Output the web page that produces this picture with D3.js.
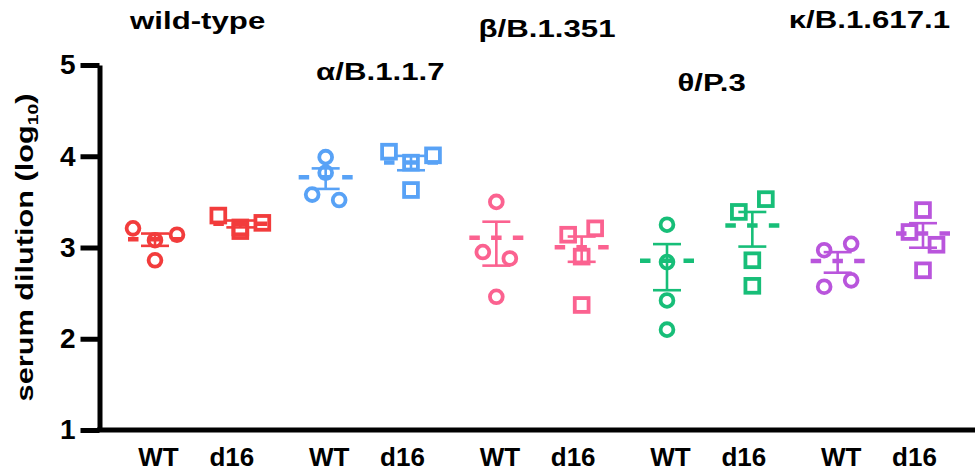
<!DOCTYPE html>
<html>
<head>
<meta charset="utf-8">
<script src="https://cdn.jsdelivr.net/npm/d3@7"></script>
<style>
    body { margin: 0; background: #fff; }
    text { font-family: "Liberation Sans", Arial, sans-serif; font-weight: bold; fill: #000; }
</style>
</head>
<body>
<svg id="chart" width="975" height="475"></svg>
<script>
    // variants and the two sera per variant
    var groups = ["wild-type", "α/B.1.1.7", "β/B.1.351", "θ/P.3", "κ/B.1.617.1"];
    var conditions = ["WT", "d16"];
    var groupColors = ["#f23c3c", "#58a2f6", "#fb6290", "#17be78", "#b955dc"];

    // log10 serum dilution per animal
    var wtValues = [
        [3.21, 3.08, 3.14, 2.86],
        [3.99, 3.82, 3.58, 3.52],
        [3.50, 2.95, 2.88, 2.46],
        [3.25, 2.84, 2.42, 2.10],
        [2.97, 3.04, 2.57, 2.64]
    ];
    var d16Values = [
        [3.35, 3.22, 3.27, 3.18],
        [4.05, 3.93, 4.01, 3.63],
        [3.14, 3.21, 2.90, 2.37],
        [3.39, 3.53, 2.86, 2.58],
        [3.41, 3.17, 3.03, 2.75]
    ];
    var yTicks = [1, 2, 3, 4, 5];

    var width = 975, height = 475;
    var svg = d3.select("#chart");

    var keys = [];
    groups.forEach(function (g) { conditions.forEach(function (c) { keys.push(g + "|" + c); }); });

    var x = d3.scalePoint().domain(keys).range([155, 923]);
    var y = d3.scaleLinear().domain([1, 5]).range([430, 65]);

    // mean and SEM are taken on the linear titres, then shown on the log axis
    function stats(vals) {
        var lin = vals.map(function (v) { return Math.pow(10, v); });
        var m = d3.mean(lin);
        var sem = d3.deviation(lin) / Math.sqrt(lin.length);
        return { mean: Math.log10(m), hi: Math.log10(m + sem), lo: Math.log10(m - sem) };
    }

    // simple column scatter: points close in y share a row and spread sideways
    function scatter(vals) {
        var pts = vals.map(function (v, i) { return { v: v, py: y(v), i: i }; });
        var sorted = pts.slice().sort(function (a, b) { return a.py - b.py; });
        var rows = [], cur = null;
        sorted.forEach(function (p) {
            if (cur && p.py - cur[0].py < 14) cur.push(p);
            else { cur = [p]; rows.push(cur); }
        });
        rows.forEach(function (r) {
            r.sort(function (a, b) { return a.i - b.i; });
            var step = r.length > 1 ? Math.min(27, 44 / (r.length - 1)) : 0;
            r.forEach(function (p, k) { p.dx = (k - (r.length - 1) / 2) * step; });
        });
        return pts;
    }

    var series = [];
    groups.forEach(function (g, gi) {
        series.push({ key: g + "|WT", cond: "WT", color: groupColors[gi], vals: wtValues[gi] });
        series.push({ key: g + "|d16", cond: "d16", color: groupColors[gi], vals: d16Values[gi] });
    });

    var plot = svg.append("g");

    series.forEach(function (s) {
        var cx = x(s.key);
        var st = stats(s.vals);
        var g = plot.append("g").attr("stroke", s.color).attr("fill", "none");
        var pts = scatter(s.vals);

        if (s.cond === "WT") {
            g.selectAll("circle").data(pts).enter().append("circle")
                .attr("cx", function (d) { return cx + d.dx; })
                .attr("cy", function (d) { return d.py; })
                .attr("r", 6.4)
                .attr("stroke-width", 3.8);
        } else {
            g.selectAll("rect").data(pts).enter().append("rect")
                .attr("x", function (d) { return cx + d.dx - 6.9; })
                .attr("y", function (d) { return d.py - 6.9; })
                .attr("width", 13.8)
                .attr("height", 13.8)
                .attr("stroke-width", 3.8);
        }

        // error bar
        g.append("line").attr("x1", cx).attr("x2", cx)
            .attr("y1", y(st.hi)).attr("y2", y(st.lo)).attr("stroke-width", 2.6);
        [st.hi, st.lo].forEach(function (v) {
            g.append("line").attr("x1", cx - 14).attr("x2", cx + 14)
                .attr("y1", y(v)).attr("y2", y(v)).attr("stroke-width", 2.6);
        });
        // mean, dashed
        g.append("line").attr("x1", cx - 27).attr("x2", cx + 27)
            .attr("y1", y(st.mean)).attr("y2", y(st.mean))
            .attr("stroke-width", 4.5)
            .attr("stroke-dasharray", "10.5,11.25");
    });

    // y axis
    var yAxis = svg.append("g")
        .attr("transform", "translate(99.5,0)")
        .call(d3.axisLeft(y).tickValues(yTicks).tickSize(19).tickSizeOuter(0)
            .tickPadding(5).tickFormat(d3.format("d")));
    yAxis.select(".domain").attr("stroke", "#000").attr("stroke-width", 5);
    yAxis.selectAll(".tick line").attr("stroke", "#000").attr("stroke-width", 5);
    yAxis.selectAll(".tick text")
        .style("font-family", "'Liberation Sans', Arial, sans-serif")
        .style("font-weight", "bold")
        .style("font-size", "28px")
        .attr("fill", "#000");

    // x axis line runs from the y axis to the right edge
    svg.append("line")
        .attr("x1", 97).attr("x2", width)
        .attr("y1", y(1)).attr("y2", y(1))
        .attr("stroke", "#000").attr("stroke-width", 5);

    var xAxis = svg.append("g")
        .attr("transform", "translate(0," + y(1) + ")")
        .call(d3.axisBottom(x).tickSize(0).tickPadding(18)
            .tickFormat(function (d) { return d.split("|")[1]; }));
    xAxis.select(".domain").remove();
    xAxis.selectAll(".tick text")
        .style("font-family", "'Liberation Sans', Arial, sans-serif")
        .style("font-weight", "bold")
        .style("font-size", "26px")
        .attr("fill", "#000")
        .attr("x", function (d) { return d.split("|")[1] === "WT" ? 3 : -9; });

    // variant titles, staggered like the original
    var titleBase = [29, 80, 37, 91, 28];
    var titleShift = [0, 12, 8, 2, -11];
    groups.forEach(function (g, gi) {
        var mid = (x(g + "|WT") + x(g + "|d16")) / 2 + titleShift[gi];
        svg.append("text")
            .attr("transform", "translate(" + mid + "," + titleBase[gi] + ") scale(1.3,1)")
            .attr("text-anchor", "middle")
            .style("font-size", "24px")
            .text(g);
    });

    // y axis title
    var yt = svg.append("text")
        .attr("transform", "translate(33," + ((y(1) + y(5)) / 2) + ") rotate(-90) scale(1.28,1)")
        .attr("text-anchor", "middle")
        .style("font-size", "24px");
    yt.append("tspan").text("serum dilution (log");
    yt.append("tspan").attr("dy", 5).style("font-size", "15px").text("10");
    yt.append("tspan").attr("dy", -5).text(")");
</script>
</body>
</html>
